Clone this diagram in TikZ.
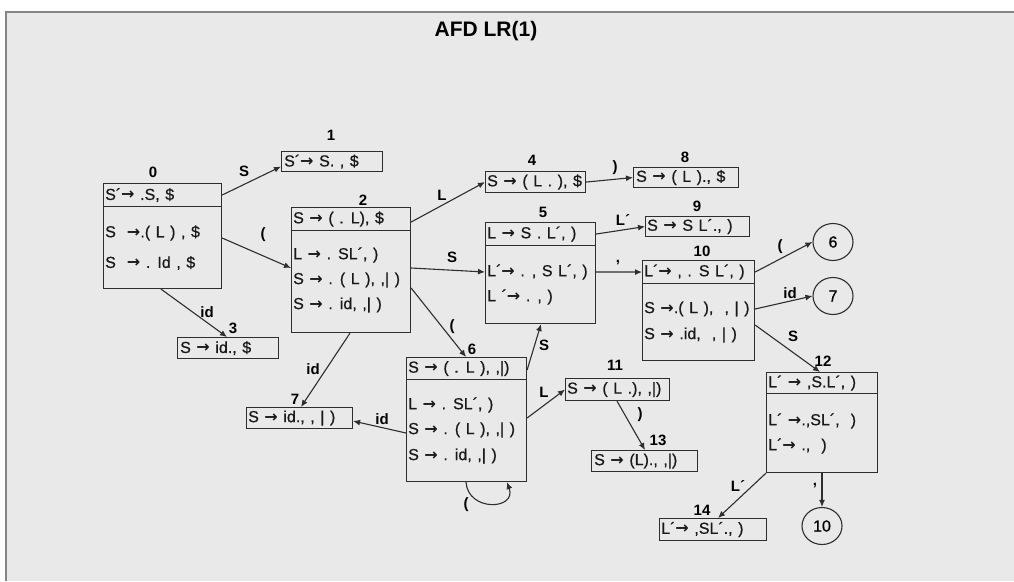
\documentclass[tikz,border=0pt]{standalone}
\usepackage{fontspec}
\setmainfont{Liberation Sans}
\newfontfamily\itmfont{Liberation Sans}[FakeBold=0.6, WordSpace=1.25]
\newfontfamily\arrfont{DejaVu Sans}
\newcommand{\arw}{{\arrfont\bfseries →}}
\usetikzlibrary{arrows.meta,shapes.geometric,calc}
\definecolor{bg}{HTML}{E9E9E9}
\definecolor{framec}{HTML}{858585}
\definecolor{ink}{HTML}{2E2E2E}
\begin{document}
\begin{tikzpicture}[x=1pt,y=-1pt,
  box/.style={draw=ink, line width=1.1pt, anchor=north west, inner sep=0pt},
  itm/.style={anchor=west, inner sep=0pt, text=black!90, font=\itmfont\fontsize{16}{18}\selectfont},
  num/.style={inner sep=0pt, font=\fontsize{15}{17}\selectfont\bfseries},
  lbl/.style={inner sep=0pt, font=\fontsize{15}{17}\selectfont\bfseries},
  st/.style={ellipse, draw=ink, line width=1.1pt, minimum width=40pt, minimum height=37pt, inner sep=0pt, font=\itmfont\fontsize{16}{18}\selectfont},
  arr/.style={draw=ink, line width=1.1pt, -{Latex[length=7pt,width=6pt]}},
]
\useasboundingbox (0,0) rectangle (1014,581);
\fill[white] (0,0) rectangle (1014,581);
\fill[bg] (7,13) rectangle (1014,581);
\draw[framec, line width=2pt] (6,581) -- (6,12) -- (1014,12);

\node[font=\fontsize{21}{24}\selectfont\bfseries] (title) at (486,31) {AFD LR(1)};

% ---------- state 0
\node[box, minimum width=118pt, minimum height=23pt] (s0h) at (103,183) {};
\node[box, minimum width=118pt, minimum height=82pt] (s0b) at (103,206) {};
\node[num] (n0) at (153,172) {0};
\node[itm] (t0a) at ([xshift=2pt]s0h.west) {S´\arw{} .S, \$};
\node[itm] (t0b) at (105,233) {S \ \arw{}.( L ) , \$};
\node[itm] (t0c) at (105,263) {S \ \arw{} . Id , \$};

% ---------- state 1
\node[box, minimum width=101pt, minimum height=20pt] (s1) at (281,151) {};
\node[num] (n1) at (331,135) {1};
\node[itm] (t1) at ([xshift=3pt]s1.west) {S´\arw{} S. , \$};

% ---------- state 2
\node[box, minimum width=119pt, minimum height=23pt] (s2h) at (291,207) {};
\node[box, minimum width=119pt, minimum height=102pt] (s2b) at (291,230) {};
\node[num] (n2) at (363,200) {2};
\node[itm] (t2a) at ([xshift=2pt]s2h.west) {S \arw{} ( . L), \$};
\node[itm] (t2b) at (293,255) {L \arw{} . SL´, )};
\node[itm] (t2c) at (293,280) {S \arw{} . ( L ), ,| )};
\node[itm] (t2d) at (293,305) {S \arw{} . id, ,| )};

% ---------- state 3
\node[box, minimum width=101pt, minimum height=21pt] (s3) at (177,337) {};
\node[num] (n3) at (233,328) {3};
\node[itm] (t3) at ([xshift=3pt]s3.west) {S \arw{} id., \$};

% ---------- state 4
\node[box, minimum width=100pt, minimum height=21pt] (s4) at (485,171) {};
\node[num] (n4) at (532,160) {4};
\node[itm] (t4) at ([xshift=2pt]s4.west) {S \arw{} ( L . ), \$};

% ---------- state 8
\node[box, minimum width=105pt, minimum height=20pt] (s8) at (633,167) {};
\node[num] (n8) at (685,157) {8};
\node[itm] (t8) at ([xshift=3pt]s8.west) {S \arw{} ( L )., \$};

% ---------- state 5
\node[box, minimum width=110pt, minimum height=23pt] (s5h) at (485,222) {};
\node[box, minimum width=110pt, minimum height=78pt] (s5b) at (485,245) {};
\node[num] (n5) at (543,212) {5};
\node[itm] (t5a) at ([xshift=2pt]s5h.west) {L \arw{} S . L´, )};
\node[itm] (t5b) at (487,272) {L´\arw{} . , S L´, )};
\node[itm] (t5c) at (487,297) {L ´\arw{} . , )};

% ---------- state 9
\node[box, minimum width=104pt, minimum height=20pt] (s9) at (645,216) {};
\node[num] (n9) at (697,206) {9};
\node[itm] (t9) at ([xshift=2pt]s9.west) {S \arw{} S L´., )};

% ---------- state 10
\node[box, minimum width=112pt, minimum height=23pt] (s10h) at (642,260) {};
\node[box, minimum width=112pt, minimum height=77pt] (s10b) at (642,283) {};
\node[num] (n10) at (702,251) {10};
\node[itm] (t10a) at ([xshift=2pt]s10h.west) {L´\arw{} , . S L´, )};
\node[itm] (t10b) at (644,309) {S \arw{}.( L ), \ , | )};
\node[itm] (t10c) at (644,335) {S \arw{} .id, \ , | )};

% ---------- circles
\node[st] (c6) at (833,242) {6};
\node[st] (c7) at (833,296) {7};
\node[st] (c10) at (822,526) {10};

% ---------- state 12
\node[box, minimum width=111pt, minimum height=21pt] (s12h) at (766,372) {};
\node[box, minimum width=111pt, minimum height=79pt] (s12b) at (766,393) {};
\node[num] (n12) at (823,361) {12};
\node[itm] (t12a) at ([xshift=2pt]s12h.west) {L´ \arw{} ,S.L´, )};
\node[itm] (t12b) at (768,421) {L´ \arw{}.,SL´, \ )};
\node[itm] (t12c) at (768,446) {L´\arw{} ., \ )};

% ---------- state 14
\node[box, minimum width=107pt, minimum height=22pt] (s14) at (659,518) {};
\node[num] (n14) at (702,510) {14};
\node[itm] (t14) at ([xshift=2pt]s14.west) {L´\arw{} ,SL´., )};

% ---------- state 6
\node[box, minimum width=120pt, minimum height=22pt] (s6h) at (406,357) {};
\node[box, minimum width=120pt, minimum height=102pt] (s6b) at (406,379) {};
\node[num] (n6) at (472,349) {6};
\node[itm] (t6a) at ([xshift=2pt]s6h.west) {S \arw{} ( . L ), ,|)};
\node[itm] (t6b) at (408,405) {L \arw{} . SL´, )};
\node[itm] (t6c) at (408,430) {S \arw{} . ( L ), ,| )};
\node[itm] (t6d) at (408,456) {S \arw{} . id, ,| )};

% ---------- state 7
\node[box, minimum width=106pt, minimum height=21pt] (s7) at (246,407) {};
\node[num] (n7) at (295,399) {7};
\node[itm] (t7) at ([xshift=2pt]s7.west) {S \arw{} id., , | )};

% ---------- state 11
\node[box, minimum width=104pt, minimum height=22pt] (s11) at (565,378) {};
\node[num] (n11) at (615,365) {11};
\node[itm] (t11) at ([xshift=2pt]s11.west) {S \arw{} ( L .), ,|)};

% ---------- state 13
\node[box, minimum width=106pt, minimum height=21pt] (s13) at (591,450) {};
\node[num] (n13) at (658,440) {13};
\node[itm] (t13) at ([xshift=3pt]s13.west) {S \arw{} (L)., ,|)};

% ---------- transitions
\draw[arr] (s0h.east) -- ([yshift=-5pt]s1.west);
\draw[arr] ([yshift=-32pt]s0b.north east) -- ([yshift=-38pt]s2b.north west);
\draw[arr] ([xshift=58pt]s0b.south west) -- ([xshift=50pt]s3.north west);
\draw[arr] ([yshift=-3pt]s2h.east) -- (s4.west);
\draw[arr] ([yshift=-38pt]s2b.north east) -- ([yshift=-27pt]s5b.north west);
\draw[arr] ([yshift=-58pt]s2b.north east) -- ([xshift=60pt]s6h.north west);
\draw[arr] ([xshift=59pt]s2b.south west) -- ([xshift=55pt]s7.north west);
\draw[arr] (s4.east) -- (s8.west);
\draw[arr] (s5h.east) -- (s9.west);
\draw[arr] ([yshift=-27pt]s5b.north east) -- (s10h.west);
\draw[arr] (s10h.east) -- (c6.west);
\draw[arr] ([yshift=-26pt]s10b.north east) -- (c7.west);
\draw[arr] ([yshift=-42pt]s10b.north east) -- ([xshift=54pt]s12h.north west);
\draw[arr] ([yshift=-54pt]s6b.north west) -- ([yshift=-3pt]s7.east);
\draw[arr] ([xshift=60pt]s6b.south west) .. controls +(2,30) and +(10,28) .. ([xshift=101pt]s6b.south west);
\draw[arr] ([yshift=-13pt]s6h.north east) -- ([xshift=56pt]s5b.south west);
\draw[arr] ([yshift=-39pt]s6b.north east) -- (s11.west);
\draw[arr] ([xshift=52pt]s11.south west) -- ([xshift=54pt]s13.north west);
\draw[arr] (s12b.south west) -- ([xshift=59pt]s14.north west);
\draw[arr] ([xshift=56pt]s12b.south west) -- (c10.north);

% ---------- transition labels
\node[lbl] (l01) at (244,171) {S};
\node[lbl] (l02) at (263,235) {(};
\node[lbl] (l03) at (207,312) {id};
\node[lbl] (l24) at (442,195) {L};
\node[lbl] (l25) at (452,257) {S};
\node[lbl] (l26) at (452,327) {(};
\node[lbl] (l27) at (313,369) {id};
\node[lbl] (l48) at (615,168) {)};
\node[lbl] (l59) at (623,220) {L´};
\node[lbl] (l510) at (618,263) {,};
\node[lbl] (l106) at (780,247) {(};
\node[lbl] (l107) at (790,293) {id};
\node[lbl] (l1012) at (793,336) {S};
\node[lbl] (l67) at (382,419) {id};
\node[lbl] (l66) at (466,505) {(};
\node[lbl] (l65) at (544,345) {S};
\node[lbl] (l611) at (544,392) {L};
\node[lbl] (l1113) at (640,415) {)};
\node[lbl] (l1214) at (738,486) {L´};
\node[lbl] (l1210) at (815,486) {,};
\end{tikzpicture}
\end{document}
